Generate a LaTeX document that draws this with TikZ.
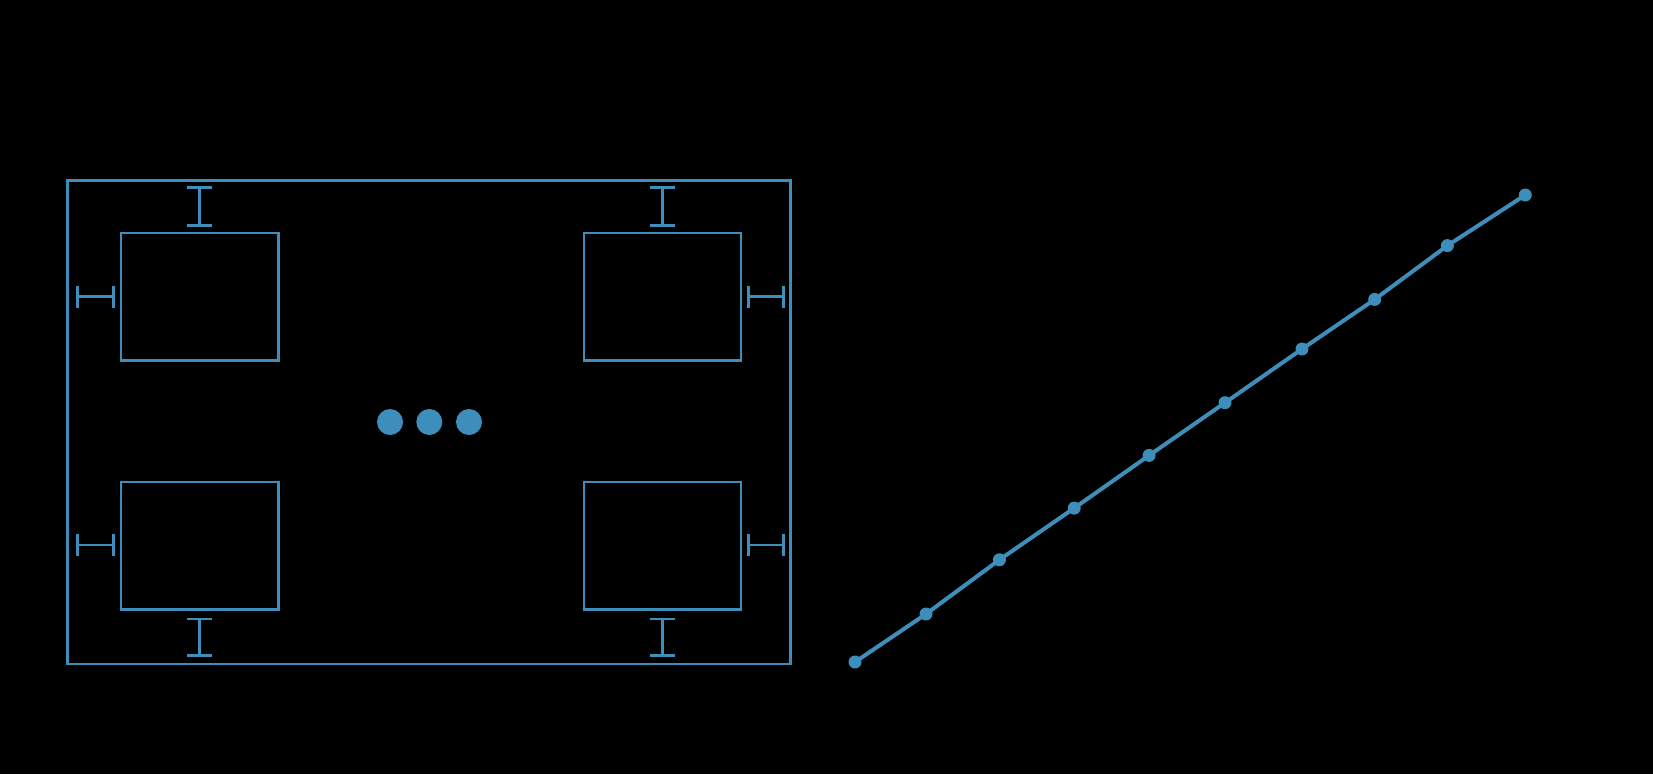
\documentclass[tikz,border=0pt]{standalone}
\definecolor{bl}{HTML}{3E8EBB}
\begin{document}
\begin{tikzpicture}[x=1pt,y=-1pt,
  frame/.style={draw=bl,line width=2.5pt},
  gap/.style={draw=bl,line width=2.5pt},
  bigdot/.style={circle,fill=bl,inner sep=0pt,minimum size=26pt},
  pt/.style={circle,fill=bl,inner sep=0pt,minimum size=13pt},
  conn/.style={draw=bl,line width=4pt}]
\useasboundingbox[fill=black] (0,0) rectangle (1653,774);
% outer frame
\draw[frame] (67.5,180.3) rectangle (790.7,664.2);
% inner boxes
\draw[frame] (121,233) rectangle (278.3,360.5);
\draw[frame] (584,233) rectangle (741,360.5);
\draw[frame] (121,481.8) rectangle (278.3,609.3);
\draw[frame] (584,481.8) rectangle (741,609.3);
% top I-beams
\foreach \x in {199.7,662.5}{
  \draw[gap] (\x,187.7) -- (\x,225.7);
  \draw[gap] (\x-12.5,187.7) -- (\x+12.5,187.7);
  \draw[gap] (\x-12.5,225.7) -- (\x+12.5,225.7);
}
% bottom I-beams
\foreach \x in {199.7,662.5}{
  \draw[gap] (\x,618.8) -- (\x,655.7);
  \draw[gap] (\x-12.5,618.8) -- (\x+12.5,618.8);
  \draw[gap] (\x-12.5,655.7) -- (\x+12.5,655.7);
}
% left H
\foreach \y in {296.7,545}{
  \draw[gap] (77.7,\y) -- (113.3,\y);
  \draw[gap] (77.7,\y-11) -- (77.7,\y+11);
  \draw[gap] (113.3,\y-11) -- (113.3,\y+11);
}
% right H
\foreach \y in {296.7,545}{
  \draw[gap] (748.5,\y) -- (783.3,\y);
  \draw[gap] (748.5,\y-11) -- (748.5,\y+11);
  \draw[gap] (783.3,\y-11) -- (783.3,\y+11);
}
% dots
\node[bigdot] (d1) at (390,422) {};
\node[bigdot] (d2) at (429.3,422) {};
\node[bigdot] (d3) at (469,422) {};
% line
\node[pt] (p1) at (855,662) {};
\node[pt] (p2) at (926,614) {};
\node[pt] (p3) at (999.4,559.8) {};
\node[pt] (p4) at (1074.2,508.1) {};
\node[pt] (p5) at (1149.1,455.4) {};
\node[pt] (p6) at (1225,402.7) {};
\node[pt] (p7) at (1302,349) {};
\node[pt] (p8) at (1374.7,299.4) {};
\node[pt] (p9) at (1447.4,245.6) {};
\node[pt] (p10) at (1525.3,195) {};
\draw[conn] (p1.center) -- (p2.center) -- (p3.center) -- (p4.center) -- (p5.center) -- (p6.center) -- (p7.center) -- (p8.center) -- (p9.center) -- (p10.center);
\end{tikzpicture}
\end{document}
